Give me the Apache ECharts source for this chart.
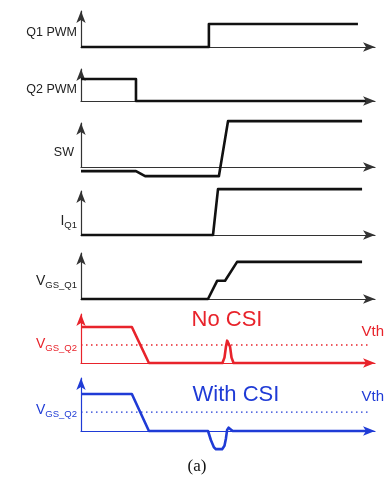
<!DOCTYPE html>
<html><head><meta charset="utf-8">
<script src="https://cdn.jsdelivr.net/npm/echarts@6/dist/echarts.min.js"></script>
<style>html,body{margin:0;padding:0;background:#fff}#c{width:386px;height:479px}</style>
</head><body><div id="c"></div>
<script>
// ---- data (time in arbitrary units 0..100, levels normalised to "high" = 1) ----
const q1PWM      = [[0,0],[43.5,0],[43.5,1],[94.2,1]];
const q2PWM      = [[0,1],[18.7,1],[18.7,0],[96.9,0]];
const swNode     = [[0,-0.09],[18.7,-0.09],[21.8,-0.2],[46.9,-0.2],[50.0,1],[95.6,1]];
const iQ1        = [[0,0],[44.9,0],[46.6,1],[95.6,1]];
const vgsQ1      = [[0,0],[43.2,0],[46.3,0.49],[49.0,0.49],[53.1,1],[95.6,1]];
const vgsQ2NoCSI = [[0,1],[17.3,1],[23.1,0],[48.1,0],[48.8,0.15],[49.3,0.45],[49.7,0.62],[50.0,0.65],[50.3,0.62],[50.7,0.45],[51.2,0.15],[51.9,0],[97.6,0]];
const vgsQ2CSI   = [[0,1],[17.3,1],[23.1,0],[43.2,0],[44.2,-0.25],[45.2,-0.44],[45.9,-0.49],[48.0,-0.49],[48.8,-0.4],[49.3,-0.2],[49.7,0.03],[50.2,0.09],[50.8,0.06],[51.6,0],[97.6,0]];
const vthNoCSI   = 0.5;
const vthCSI     = 0.51;
const vthSpan    = [0, 97.6];

// ---- layout ----
const RED = '#e8232b', BLUE = '#1f3bd6', BLK = '#111';
const panels = [
  {top:11,  base:47,  max:1.57, color:BLK,  data:q1PWM},
  {top:69,  base:101, max:1.45, color:BLK,  data:q2PWM},
  {top:123, base:167, max:0.96, color:BLK,  data:swNode},
  {top:191, base:235, max:0.96, color:BLK,  data:iQ1},
  {top:253, base:299, max:1.24, color:BLK,  data:vgsQ1},
  {top:314, base:363, max:1.36, color:RED,  data:vgsQ2NoCSI, vth:vthNoCSI},
  {top:378, base:431, max:1.43, color:BLUE, data:vgsQ2CSI,   vth:vthCSI}
];
const LEFT = 81, RIGHT = 11;

const grid = [], xAxis = [], yAxis = [], series = [];
panels.forEach((p, i) => {
  grid.push({left: LEFT, right: RIGHT, top: p.top, height: p.base - p.top});
  const axColor = p.color === BLK ? '#333' : p.color;
  const axLine = {show:true, onZero:true, symbol:['none','arrow'], symbolSize:[7,12],
                  lineStyle:{color:axColor, width:1.2}};
  xAxis.push({gridIndex:i, type:'value', min:0, max:100, axisLine:axLine,
              axisTick:{show:false}, axisLabel:{show:false}, splitLine:{show:false}});
  yAxis.push({gridIndex:i, type:'value', min:0, max:p.max, axisLine:axLine,
              axisTick:{show:false}, axisLabel:{show:false}, splitLine:{show:false}});
  series.push({type:'line', xAxisIndex:i, yAxisIndex:i, data:p.data, showSymbol:false,
               clip:false, z:5, lineStyle:{color:p.color, width:2.6, join:'round'}, silent:true});
  if (p.vth !== undefined) {
    series.push({type:'line', xAxisIndex:i, yAxisIndex:i,
                 data:[[vthSpan[0], p.vth],[vthSpan[1], p.vth]], showSymbol:false, z:4,
                 lineStyle:{color:p.color, width:1.3, type:[1.5,3.5]}, silent:true});
  }
});

const FONT = '"Liberation Sans", Arial, sans-serif';
const ctx = document.createElement('canvas').getContext('2d');
const measure = (t, size) => { ctx.font = size + 'px ' + FONT; return ctx.measureText(t).width; };
const txt = (t, x, y, align, size, color, family) => ({
  type:'text', x:x, y:y,
  style:{text:t, fill:color, font: size+'px '+(family||FONT),
         textAlign:align, textVerticalAlign:'middle'}
});
// main letter + subscript, right-aligned at x
const sub = (main, s, color, y, x) => {
  x = x || 77;
  const w = measure(s, 9.5);
  return [txt(main, x - w, y, 'right', 14, color), txt(s, x, y + 4, 'right', 9.5, color)];
};

const graphic = [
  txt('Q1 PWM', 77, 33, 'right', 12.5, '#222'),
  txt('Q2 PWM', 77, 90, 'right', 12.5, '#222'),
  txt('SW', 74, 153, 'right', 12.5, '#222'),
  ...sub('I', 'Q1', '#222', 221),
  ...sub('V', 'GS_Q1', '#222', 281),
  ...sub('V', 'GS_Q2', RED, 344),
  ...sub('V', 'GS_Q2', BLUE, 410),
  txt('No CSI', 227, 320, 'center', 22, RED),
  txt('Vth', 384, 332, 'right', 15, RED),
  txt('With CSI', 236, 395, 'center', 22, BLUE),
  txt('Vth', 384, 397, 'right', 15, BLUE),
  txt('(a)', 197, 467, 'center', 17, '#111', '"Liberation Serif", "Times New Roman", serif')
];

const chart = echarts.init(document.getElementById('c'), null, {renderer:'canvas'});
chart.setOption({animation:false, backgroundColor:'#fff', grid, xAxis, yAxis, series, graphic});
</script></body></html>
